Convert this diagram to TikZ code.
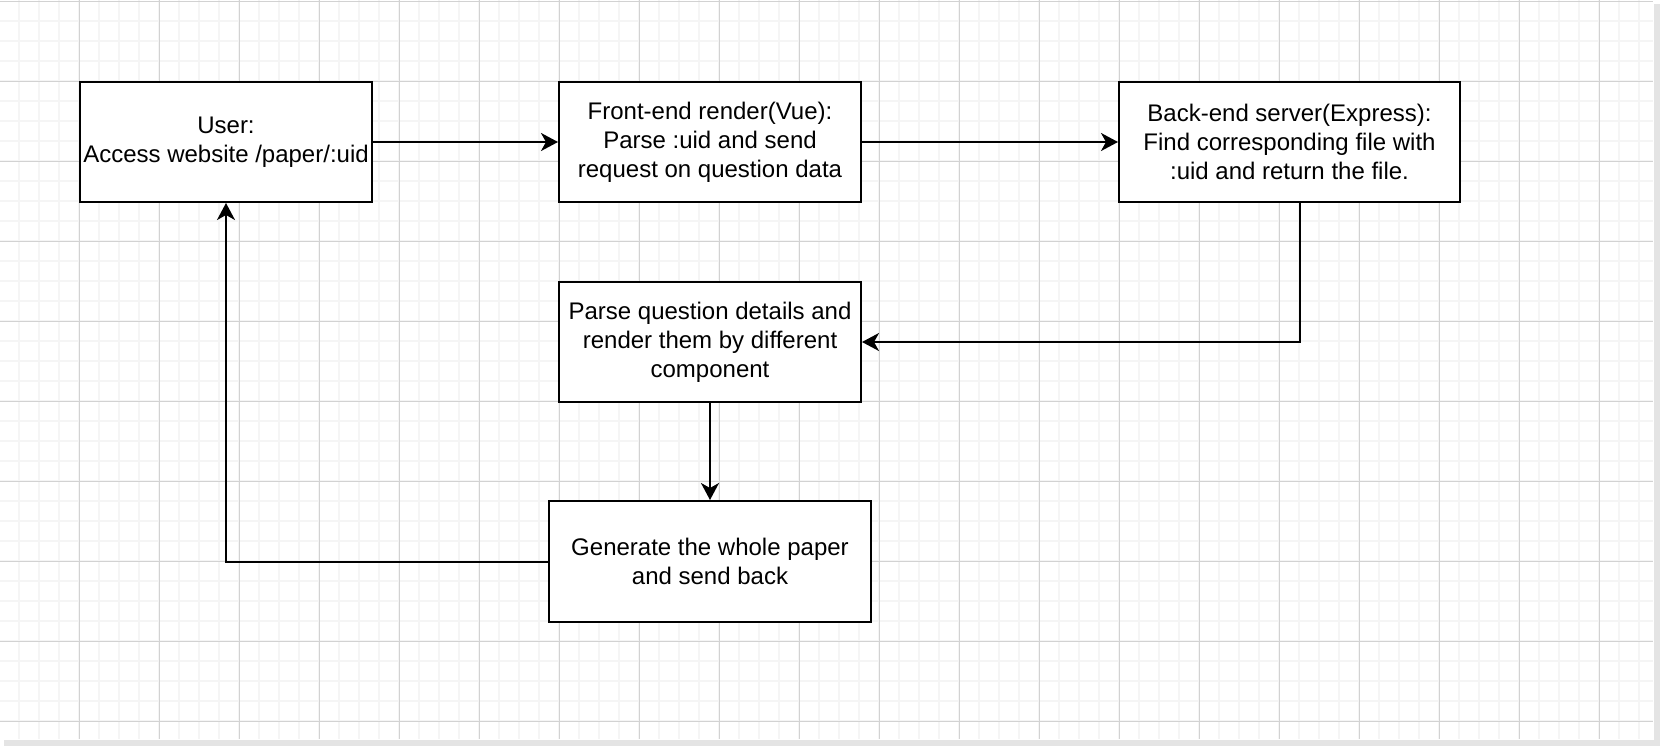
\documentclass[tikz,border=0pt]{standalone}
\usepackage{fontspec}
\setmainfont{Liberation Sans}
\usetikzlibrary{arrows.meta, positioning}
\definecolor{grid_minor}{RGB}{245,245,245}
\definecolor{grid_major}{RGB}{210,210,210}
\definecolor{page_shadow}{RGB}{228,228,228}

\begin{document}
\begin{tikzpicture}[x=0.5pt, y=-0.5pt, >={Stealth[length=8.5pt, width=9pt, inset=2.5pt]},
    box/.style={rectangle, draw, line width=1pt, fill=white, align=center, inner sep=1pt,
      font=\fontsize{12}{14.4}\selectfont}]
  \useasboundingbox (0,0) rectangle (1660,746);
  % page with shadow
  \fill[page_shadow] (4,4) rectangle (1660,746);
  \fill[white] (0,0) rectangle (1654,740);
  % grid
  \foreach \x in {19,39,...,1639} \draw[grid_minor, line width=1pt] (\x,0) -- (\x,739);
  \foreach \y in {21,41,...,721} \draw[grid_minor, line width=1pt] (0,\y) -- (1653,\y);
  \foreach \x in {79,159,...,1599} \draw[grid_major, line width=0.5pt] (\x,0) -- (\x,739);
  \foreach \y in {1,81,...,721} \draw[grid_major, line width=0.5pt] (0,\y) -- (1653,\y);
  % boxes
  \node[box, minimum width=146pt, minimum height=60pt] (user) at (226,142) {User:\\Access website /paper/:uid};
  \node[box, minimum width=151pt, minimum height=60pt] (front) at (710,142) {Front-end render(Vue):\\Parse :uid and send\\request on question data};
  \node[box, minimum width=170.5pt, minimum height=60pt] (back) at (1289.5,142) {Back-end server(Express):\\Find corresponding file with\\:uid and return the file.};
  \node[box, minimum width=151pt, minimum height=60pt] (parse) at (710,342) {Parse question details and\\render them by different\\component};
  \node[box, minimum width=161pt, minimum height=60.5pt] (gen) at (710,561.5) {Generate the whole paper\\and send back};
  % connectors
  \draw[->, line width=1pt] (user) -- (front);
  \draw[->, line width=1pt] (front) -- (back);
  \draw[->, line width=1pt] ([xshift=5.25pt]back.south) |- (parse.east);
  \draw[->, line width=1pt] (parse) -- (gen);
  \draw[->, line width=1pt] (gen.west) -| (user.south);
\end{tikzpicture}
\end{document}
